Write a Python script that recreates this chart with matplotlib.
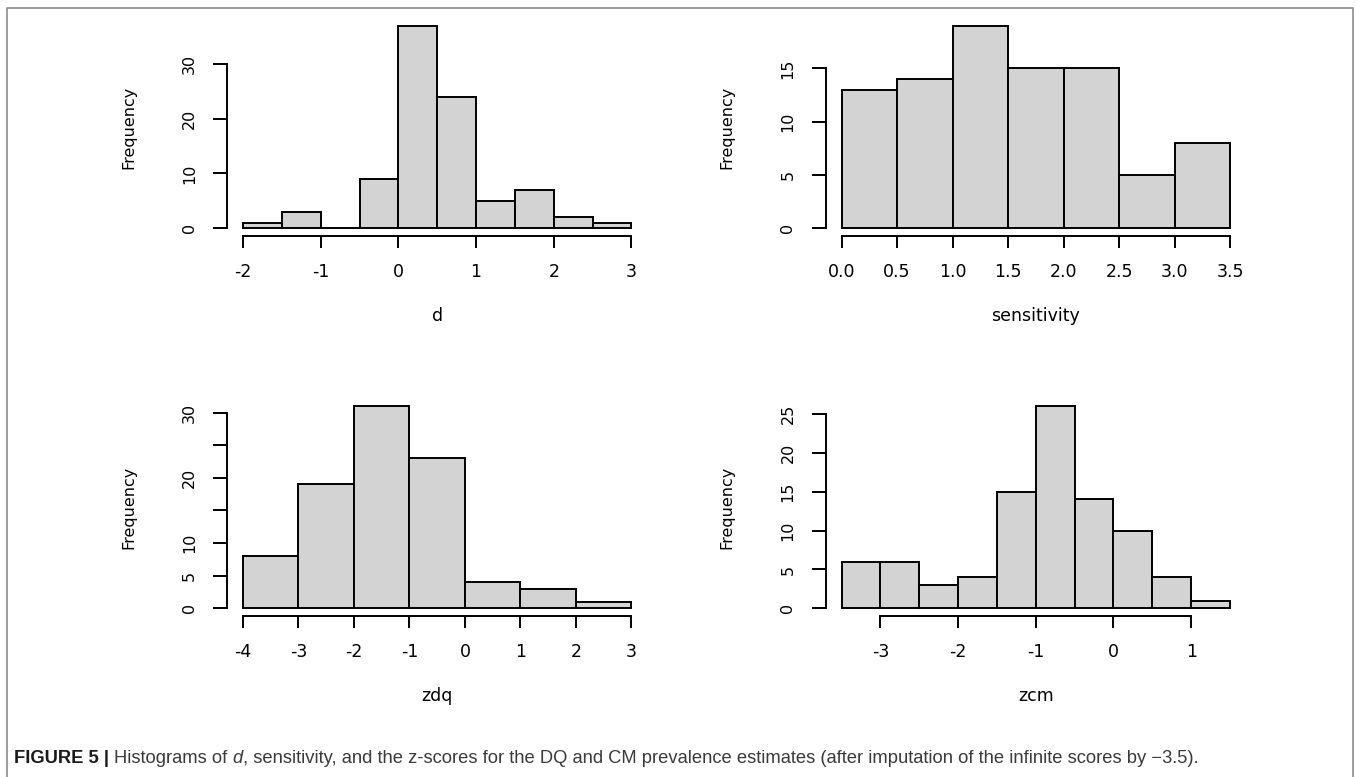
import matplotlib
matplotlib.use("Agg")
import matplotlib.pyplot as plt
import numpy as np
from matplotlib.lines import Line2D

plt.rcParams['axes.unicode_minus'] = False

# histogram bin edges and counts
d_edges = [-2.0, -1.5, -1.0, -0.5, 0.0, 0.5, 1.0, 1.5, 2.0, 2.5, 3.0]
d_counts = [1, 3, 0, 9, 37, 24, 5, 7, 2, 1]

sens_edges = [0.0, 0.5, 1.0, 1.5, 2.0, 2.5, 3.0, 3.5]
sens_counts = [13, 14, 19, 15, 15, 5, 8]

zdq_edges = [-4, -3, -2, -1, 0, 1, 2, 3]
zdq_counts = [8, 19, 31, 23, 4, 3, 1]

zcm_edges = [-3.5, -3.0, -2.5, -2.0, -1.5, -1.0, -0.5, 0.0, 0.5, 1.0, 1.5]
zcm_counts = [6, 6, 3, 4, 15, 26, 14, 10, 4, 1]

d_xticks = [-2, -1, 0, 1, 2, 3]
d_xlabels = ["-2", "-1", "0", "1", "2", "3"]
d_yticks = [0, 10, 20, 30]
d_ylabels = ["0", "10", "20", "30"]

sens_xticks = [0.0, 0.5, 1.0, 1.5, 2.0, 2.5, 3.0, 3.5]
sens_xlabels = ["0.0", "0.5", "1.0", "1.5", "2.0", "2.5", "3.0", "3.5"]
sens_yticks = [0, 5, 10, 15]
sens_ylabels = ["0", "5", "10", "15"]

zdq_xticks = [-4, -3, -2, -1, 0, 1, 2, 3]
zdq_xlabels = ["-4", "-3", "-2", "-1", "0", "1", "2", "3"]
zdq_yticks = [0, 5, 10, 15, 20, 25, 30]
zdq_ylabels = ["0", "5", "10", "", "20", "", "30"]

zcm_xticks = [-3, -2, -1, 0, 1]
zcm_xlabels = ["-3", "-2", "-1", "0", "1"]
zcm_yticks = [0, 5, 10, 15, 20, 25]
zcm_ylabels = ["0", "5", "10", "15", "20", "25"]

W, H = 1357, 777
fig = plt.figure(figsize=(W / 100, H / 100), dpi=100)

LEFT_X, RIGHT_X, AX_W = 0.1676, 0.6087, 0.3092
TOP_Y, BOT_Y, AX_H = 0.6961, 0.2066, 0.2812


def r_hist(pos, edges, counts, xlabel, xticks, xlabels, yticks, ylabels):
    ax = fig.add_axes([pos[0], pos[1], AX_W, AX_H])
    edges = np.asarray(edges, dtype=float)
    ax.bar(edges[:-1], counts, width=np.diff(edges), align="edge",
           color="#d3d3d3", edgecolor="black", linewidth=1.4)
    xr = edges[-1] - edges[0]
    ax.set_xlim(edges[0] - 0.04 * xr, edges[-1] + 0.04 * xr)
    top = max(counts)
    ax.set_ylim(-0.04 * top, top * 1.04)

    for s in ("top", "right"):
        ax.spines[s].set_visible(False)
    ax.spines["left"].set_bounds(yticks[0], yticks[-1])
    ax.spines["bottom"].set_bounds(xticks[0], xticks[-1])
    for s in ("left", "bottom"):
        ax.spines[s].set_linewidth(1.4)

    ax.set_xticks(xticks)
    ax.set_xticklabels(xlabels)
    ax.set_yticks(yticks)
    ax.set_yticklabels(ylabels, rotation=90, va="center")
    ax.tick_params(axis="x", direction="out", length=8.4, width=1.4,
                   pad=11, labelsize=12.5)
    ax.tick_params(axis="y", direction="out", length=10, width=1.4,
                   pad=12, labelsize=11.5)

    ax.set_xlabel(xlabel, fontsize=12.5)
    ax.xaxis.set_label_coords(0.5, -0.325)
    ax.set_ylabel("Frequency", fontsize=11.5, va="center")
    ax.yaxis.set_label_coords(-0.236, 0.5)
    return ax


r_hist((LEFT_X, TOP_Y), d_edges, d_counts, "d", d_xticks, d_xlabels, d_yticks, d_ylabels)
r_hist((RIGHT_X, TOP_Y), sens_edges, sens_counts, "sensitivity",
       sens_xticks, sens_xlabels, sens_yticks, sens_ylabels)
r_hist((LEFT_X, BOT_Y), zdq_edges, zdq_counts, "zdq", zdq_xticks, zdq_xlabels, zdq_yticks, zdq_ylabels)
r_hist((RIGHT_X, BOT_Y), zcm_edges, zcm_counts, "zcm", zcm_xticks, zcm_xlabels, zcm_yticks, zcm_ylabels)

# frame around the figure (open at the bottom, like the cropped journal box)
x0, x1, ytop = 7 / W, 1353 / W, 1 - 8 / H
fig.add_artist(Line2D([x0, x0, x1, x1], [-0.05, ytop, ytop, -0.05],
                      transform=fig.transFigure, color="#8c8c8c", linewidth=1.2))

# caption, drawn piece by piece
pieces = [
    ("FIGURE 5 | ", "bold", "normal", "#1a1a1a"),
    ("Histograms of ", "normal", "normal", "#3a3a3a"),
    ("d", "normal", "italic", "#3a3a3a"),
    (", sensitivity, and the z-scores for the DQ and CM prevalence estimates "
     "(after imputation of the infinite scores by \u22123.5).", "normal", "normal", "#3a3a3a"),
]
renderer = fig.canvas.get_renderer()
cx = 14 / W
cy = 1 - 763 / H
for txt, weight, style, col in pieces:
    t = fig.text(cx, cy, txt, fontsize=13.2, family="Liberation Sans",
                 weight=weight, style=style, color=col, va="baseline", ha="left")
    bb = t.get_window_extent(renderer=renderer)
    cx = bb.x1 / W

fig.savefig("out.png", dpi=100)
